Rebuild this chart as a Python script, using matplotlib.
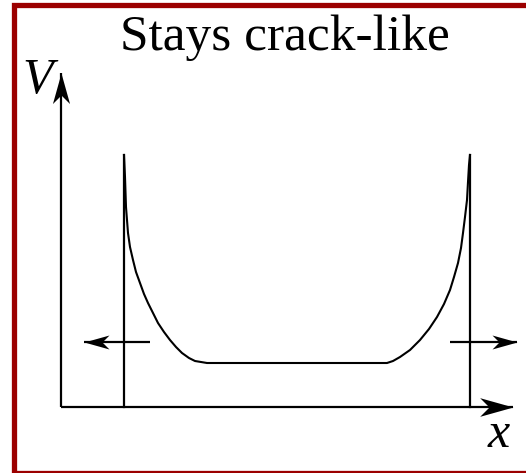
import numpy as np
import matplotlib
matplotlib.use("Agg")
import matplotlib.pyplot as plt
from matplotlib.path import Path
from matplotlib.markers import MarkerStyle
from matplotlib.patches import Rectangle
from matplotlib.transforms import Affine2D

# crack profile V(x) (origin at the axis corner)
left_x = [63, 64, 65, 67, 69, 72, 75, 79, 83, 87, 92, 97, 103, 109, 115, 121, 128, 134, 140, 146]
left_v = [252, 230, 200, 174, 160, 147, 135, 124, 113, 104, 94, 84, 75, 67, 60, 54, 49, 46, 45, 44]
flat_x = [146, 326]
flat_v = [44, 44]
right_x = [326, 332, 339, 349, 359, 368, 376, 383, 389, 393, 397, 400, 402, 404, 406, 407, 408, 409]
right_v = [44, 46, 50, 57, 67, 78, 90, 103, 117, 130, 144, 159, 174, 190, 207, 225, 242, 252]

tip_left, tip_right = 63, 409      # vertical lines at the crack tips
arrow_v = 65                       # height of the growth arrows
arrow_left = (89, 23)
arrow_right = (389, 456)
x_axis_end, v_axis_end = 452, 334

fig = plt.figure(figsize=(5.26, 4.73), dpi=100)
ax = fig.add_axes([0, 0, 1, 1])
ax.set_xlim(-61, 465)
ax.set_ylim(-66, 407)
ax.axis("off")

# stealth-style arrow head with its tip at the marker origin
head = Path([(0, 0), (-1, 0.28), (-0.72, 0), (-1, -0.28), (0, 0)],
            [Path.MOVETO, Path.LINETO, Path.LINETO, Path.LINETO, Path.CLOSEPOLY])

def arrow(x0, y0, x1, y1, size, lw):
    ax.plot([x0, x1], [y0, y1], color="black", lw=lw, solid_capstyle="butt")
    ang = np.degrees(np.arctan2(y1 - y0, x1 - x0))
    m = MarkerStyle(head, transform=Affine2D().rotate_deg(ang))
    ax.plot([x1], [y1], marker=m, ms=size, color="black", mew=0)

lw = 1.6
arrow(0, 0, x_axis_end, 0, 48, lw)
arrow(0, 0, 0, v_axis_end, 44, lw)
arrow(arrow_left[0], arrow_v, arrow_left[1], arrow_v, 36, lw)
arrow(arrow_right[0], arrow_v, arrow_right[1], arrow_v, 36, lw)

ax.plot([tip_left, tip_left], [0, left_v[0]], color="black", lw=lw)
ax.plot([tip_right, tip_right], [0, right_v[-1]], color="black", lw=lw)

ax.plot(left_x + flat_x + right_x, left_v + flat_v + right_v,
        color="black", lw=1.5, solid_joinstyle="round")

serif = ["Liberation Serif", "DejaVu Serif"]
ax.text(224, 357, "Stays crack-like", family=serif, fontsize=37,
        ha="center", va="baseline")
ax.text(-39, 314, "V", family=serif, style="italic", fontsize=36,
        ha="left", va="baseline")
ax.text(427, -40, "x", family=serif, style="italic", fontsize=36,
        ha="left", va="baseline")

# dark red frame around the panel
fig.patches.append(Rectangle((13.5 / 526, 1 - 472.5 / 473), 1.1, 467.5 / 473,
                             transform=fig.transFigure, fill=False,
                             edgecolor="#9b0000", lw=3.8, clip_on=False))

fig.savefig("out.png", dpi=100, facecolor="white")
